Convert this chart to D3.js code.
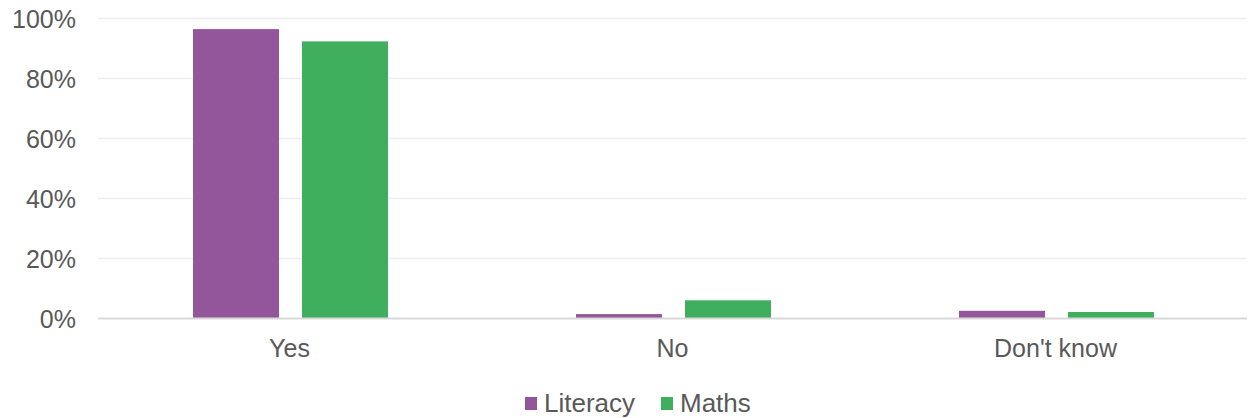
<!DOCTYPE html>
<html><head><meta charset="utf-8">
<script src="https://cdn.jsdelivr.net/npm/d3@7"></script>
<style>body{margin:0;background:#fff}svg{display:block}</style>
</head><body>
<svg id="c" width="1250" height="418"></svg>
<script>
const categories = ["Yes", "No", "Don't know"];
const seriesNames = ["Literacy", "Maths"];
const literacy = [96.3, 1.3, 2.4];
const maths = [92.2, 5.9, 2.0];
const yTicks = [0, 20, 40, 60, 80, 100];
const colors = ["#94569B", "#3FAE5D"];

(function () {
const svg = d3.select("#c");
const mLeft = 98, mRight = 1247, mTop = 18, mBottom = 318;
const font = "Liberation Sans, Arial, sans-serif";
const x0 = d3.scaleBand().domain(categories).range([mLeft, mRight]).padding(0);
const x1 = d3.scaleBand().domain(seriesNames).range([95, 290]).paddingInner(0.211).paddingOuter(0);
const y = d3.scaleLinear().domain([0, 100]).range([mBottom, mTop]);
const values = [literacy, maths];

// gridlines
svg.append("g").selectAll("line").data(yTicks.filter(d => d > 0)).join("line")
  .attr("x1", mLeft).attr("x2", mRight)
  .attr("y1", d => y(d) + 0.5).attr("y2", d => y(d) + 0.5)
  .attr("stroke", "#eeeeee").attr("stroke-width", 1.5);

// y axis labels
const yAxis = d3.axisLeft(y).tickValues(yTicks).tickFormat(d => d + "%").tickSize(0).tickPadding(0);
const gy = svg.append("g").attr("transform", `translate(76,1)`).call(yAxis);
gy.select(".domain").remove();
gy.selectAll("text").attr("font-family", font)
  .attr("font-size", 25).attr("fill", "#595959");

// bars
categories.forEach((c, i) => {
  seriesNames.forEach((s, j) => {
    const v = values[j][i];
    svg.append("rect")
      .attr("x", x0(c) + x1(s))
      .attr("y", y(v))
      .attr("width", x1.bandwidth())
      .attr("height", y(0) - y(v))
      .attr("fill", colors[j]);
  });
});

// baseline
svg.append("line").attr("x1", mLeft).attr("x2", mRight)
  .attr("y1", mBottom + 0.5).attr("y2", mBottom + 0.5)
  .attr("stroke", "#d9d9d9").attr("stroke-width", 2);

// x axis labels
const xAxis = d3.axisBottom(x0).tickSize(0).tickPadding(0);
const gx = svg.append("g").attr("transform", `translate(0,357)`).call(xAxis);
gx.select(".domain").remove();
gx.selectAll("text").attr("font-family", font)
  .attr("font-size", 25).attr("fill", "#595959").attr("y", 0).attr("dy", 0);

// legend
const legendX = [525, 661];
const lg = svg.append("g");
seriesNames.forEach((s, j) => {
  lg.append("rect").attr("x", legendX[j]).attr("y", 397).attr("width", 12).attr("height", 13).attr("fill", colors[j]);
  lg.append("text").attr("x", legendX[j] + 19).attr("y", 411.5)
    .attr("font-family", font).attr("font-size", 26)
    .attr("fill", "#595959").text(s);
});
})();
</script>
</body></html>
